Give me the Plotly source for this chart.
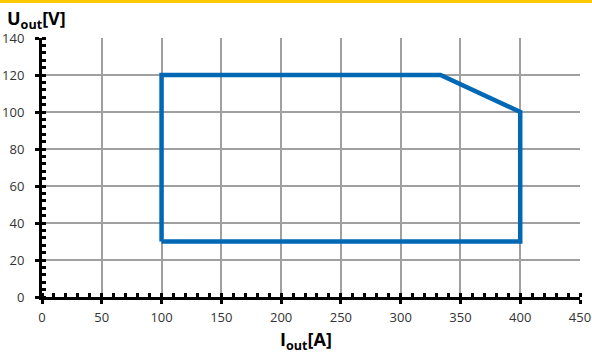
import plotly.graph_objects as go

# Output current / voltage operating envelope
current_a = [100, 100, 333.3, 366, 400, 400, 100]
voltage_v = [30, 120, 120, 110, 100, 30, 30]

x_ticks = [0, 50, 100, 150, 200, 250, 300, 350, 400, 450]
y_ticks = [0, 20, 40, 60, 80, 100, 120, 140]

FONT = "Open Sans"
W, H = 592, 354
ML, MR, MT, MB = 42, 12, 38, 57
PW, PH = W - ML - MR, H - MT - MB

fig = go.Figure()
fig.add_trace(go.Scatter(
    x=current_a, y=voltage_v, mode="lines",
    line=dict(color="#0068B5", width=4.5),
    showlegend=False, hoverinfo="skip",
))

common = dict(
    showgrid=True, gridcolor="#A0A0A0", gridwidth=1.5,
    showline=True, linecolor="black", linewidth=3,
    ticks="outside", ticklen=4, tickwidth=3, tickcolor="black",
    tickfont=dict(family=FONT, size=13, color="#333333"),
    zeroline=False, fixedrange=True, automargin=False,
)

fig.update_layout(
    width=W, height=H,
    margin=dict(l=ML, r=MR, t=MT, b=MB, pad=0),
    plot_bgcolor="white", paper_bgcolor="white",
    xaxis=dict(range=[0, 450], tickvals=x_ticks, ticktext=[str(v) for v in x_ticks],
               ticklabelstandoff=2,
               minor=dict(dtick=10, ticks="inside", ticklen=4, tickwidth=3,
                          tickcolor="black", showgrid=False),
               **common),
    yaxis=dict(range=[0, 140], tickvals=y_ticks, ticktext=[str(v) for v in y_ticks],
               ticklabelstandoff=8,
               minor=dict(dtick=4, ticks="inside", ticklen=4, tickwidth=3,
                          tickcolor="black", showgrid=False),
               **common),
    # inner halves of the major ticks
    xaxis2=dict(overlaying="x", matches="x", side="bottom", anchor="y",
                tickvals=x_ticks, ticks="inside", ticklen=4, tickwidth=3,
                tickcolor="black", showticklabels=False, showgrid=False,
                showline=False, zeroline=False, fixedrange=True, automargin=False),
    yaxis2=dict(overlaying="y", matches="y", side="left", anchor="x",
                tickvals=y_ticks, ticks="inside", ticklen=4, tickwidth=3,
                tickcolor="black", showticklabels=False, showgrid=False,
                showline=False, zeroline=False, fixedrange=True, automargin=False),
)

# invisible trace to bring the secondary axes into the layout
fig.add_trace(go.Scatter(x=[None], y=[None], xaxis="x2", yaxis="y2",
                         showlegend=False, hoverinfo="skip"))

# yellow rule across the top of the page
fig.add_shape(type="rect", xref="paper", yref="paper",
              x0=-ML / PW, x1=1 + MR / PW,
              y0=1 + (MT - 3) / PH, y1=1 + MT / PH,
              fillcolor="#FFC800", line=dict(width=0), layer="above")

fig.add_annotation(text="<b>U<sub>out</sub>[V]</b>", xref="paper", yref="paper",
                   x=-ML / PW + 5 / PW, y=1 + (MT - 4) / PH,
                   xanchor="left", yanchor="top", showarrow=False,
                   font=dict(family=FONT, size=18, color="black"))
fig.add_annotation(text="<b>I<sub>out</sub>[A]</b>", xref="paper", yref="paper",
                   x=(306 - ML) / PW, y=-(325 - MT - PH) / PH,
                   xanchor="center", yanchor="top", showarrow=False,
                   font=dict(family=FONT, size=18, color="black"))

fig.write_html("out.html")
